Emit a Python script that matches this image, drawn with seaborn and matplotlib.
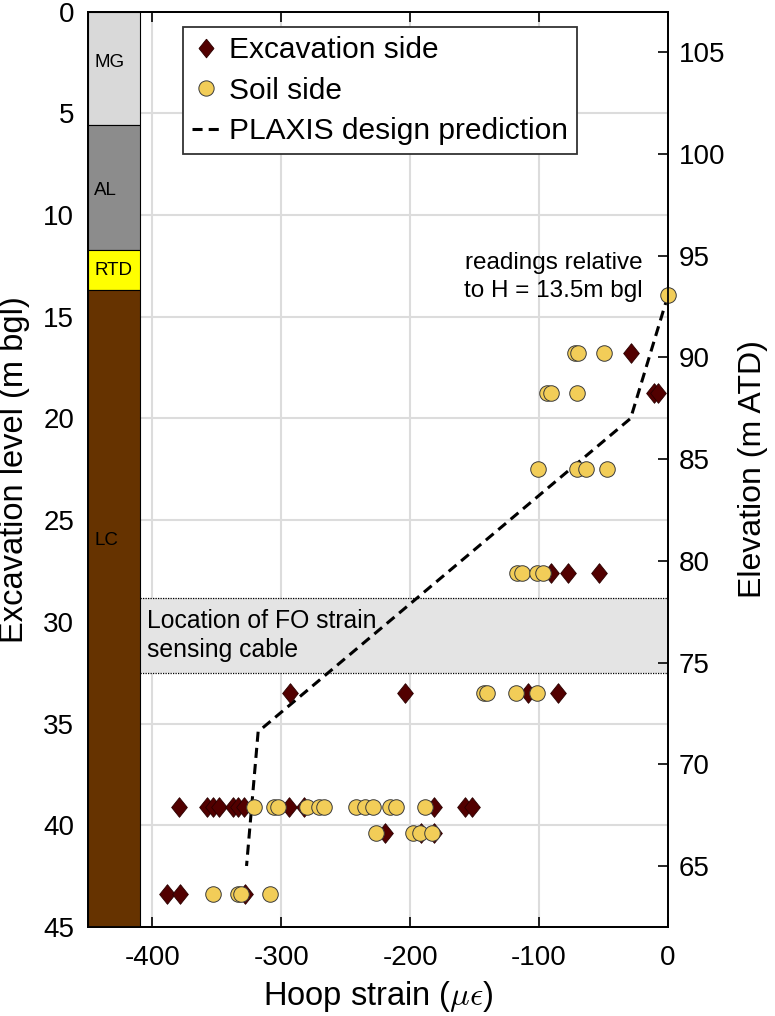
import numpy as np
import pandas as pd
import matplotlib
matplotlib.use("Agg")
import matplotlib.pyplot as plt
import seaborn as sns
from matplotlib.lines import Line2D
from matplotlib.patches import Rectangle

# ---------------- data ----------------
exc_strain = [-28.7,
              -10.9, -7.5,
              -90.7, -77.3, -53.2,
              -293.0, -203.9, -108.8, -85.5,
              -379.6, -358.0, -353.0, -348.6, -337.5, -333.8, -329.2, -294.3, -282.2, -181.4, -157.4, -151.7,
              -219.9, -191.7, -181.9,
              -388.6, -378.8, -328.0]
exc_depth = [16.8,
             18.75, 18.75,
             27.6, 27.6, 27.6,
             33.5, 33.5, 33.5, 33.5,
             39.1, 39.1, 39.1, 39.1, 39.1, 39.1, 39.1, 39.1, 39.1, 39.1, 39.1, 39.1,
             40.4, 40.4, 40.4,
             43.4, 43.4, 43.4]

soil_strain = [0.0,
               -72.0, -70.0, -50.0,
               -93.5, -91.0, -70.3,
               -101.0, -70.3, -63.6, -47.0,
               -116.8, -113.0, -101.3, -96.6,
               -142.4, -140.6, -118.0, -101.8,
               -321.0, -305.4, -302.8, -280.0, -271.0, -267.0, -242.0, -234.9, -229.0, -215.5, -211.0, -188.4,
               -226.4, -198.2, -192.2, -183.2,
               -353.0, -333.6, -331.0, -308.5]
soil_depth = [13.95,
              16.8, 16.8, 16.8,
              18.75, 18.75, 18.75,
              22.5, 22.5, 22.5, 22.5,
              27.6, 27.6, 27.6, 27.6,
              33.5, 33.5, 33.5, 33.5,
              39.1, 39.1, 39.1, 39.1, 39.1, 39.1, 39.1, 39.1, 39.1, 39.1, 39.1, 39.1,
              40.4, 40.4, 40.4, 40.4,
              43.4, 43.4, 43.4, 43.4]

plaxis_strain = [0.0, -29.0, -318.0, -327.0]
plaxis_depth = [13.95, 20.0, 35.4, 42.0]

layer_names = ["MG", "AL", "RTD", "LC"]
layer_top = [0.0, 5.6, 11.7, 13.7]
layer_bottom = [5.6, 11.7, 13.7, 45.0]
layer_colors = ["#d9d9d9", "#8c8c8c", "#ffff00", "#663300"]
layer_label_depth = [2.5, 8.8, 12.75, 26.0]

fo_top, fo_bottom = 28.85, 32.5

x_ticks = [-400, -300, -200, -100, 0]
depth_ticks = [0, 5, 10, 15, 20, 25, 30, 35, 40, 45]
elev_ticks = [65, 70, 75, 80, 85, 90, 95, 100, 105]
ground_elev = 107.0

# ---------------- style ----------------
sns.set_style("whitegrid", {"grid.color": "#dcdcdc", "axes.edgecolor": "black",
                            "text.color": "black", "axes.labelcolor": "black",
                            "xtick.color": "black", "ytick.color": "black"})
plt.rcParams["font.family"] = ["Liberation Sans", "DejaVu Sans"]
plt.rcParams["mathtext.fontset"] = "cm"
plt.rcParams["text.color"] = "black"

fig = plt.figure(figsize=(7.75, 10.16), dpi=100)
ax = fig.add_axes([88 / 775, 1 - 927 / 1016, 580 / 775, 915.5 / 1016])

xmin, xmax = -450, 0
col_right = -410

# stratigraphy column
for name, t, b, c, ld in zip(layer_names, layer_top, layer_bottom, layer_colors, layer_label_depth):
    ax.add_patch(Rectangle((xmin, t), col_right - xmin, b - t, facecolor=c,
                           edgecolor="black", linewidth=0.8, zorder=3))
    ax.text(-445, ld, name, fontsize=13.5, ha="left", va="center", color="black", zorder=4)

# FO cable band
ax.fill_between([col_right, xmax], fo_top, fo_bottom, color="#e4e4e4", zorder=1.5, linewidth=0)
for yv in (fo_top, fo_bottom):
    ax.plot([col_right, xmax], [yv, yv], color="black", lw=0.9, ls=(0, (1, 1)), zorder=1.6)
ax.text(-404.5, (fo_top + fo_bottom) / 2, "Location of FO strain\nsensing cable",
        fontsize=17.8, ha="left", va="center", linespacing=1.3, zorder=2, color="black")

# PLAXIS line
sns.lineplot(x=plaxis_strain, y=plaxis_depth, sort=False, estimator=None, ax=ax,
             color="black", lw=2.2, dashes=False, zorder=4)
ax.lines[-1].set_linestyle((0, (3.3, 2.0)))

diamond = [(0, 1), (0.8, 0), (0, -1), (-0.8, 0), (0, 1)]
exc_df = pd.DataFrame({"strain": exc_strain, "depth": exc_depth})
soil_df = pd.DataFrame({"strain": soil_strain, "depth": soil_depth})
sns.scatterplot(data=exc_df, x="strain", y="depth", ax=ax, marker=diamond, s=200,
                color="#520000", edgecolor="#2a0000", linewidth=0.6, zorder=5, legend=False)
sns.scatterplot(data=soil_df, x="strain", y="depth", ax=ax, marker="o", s=125,
                color="#f2cd58", edgecolor="#3a3a3a", linewidth=0.7, zorder=6, legend=False,
                clip_on=False)

ax.text(-19.4, 13.05, "readings relative\nto H = 13.5m bgl", fontsize=17.5, ha="right",
        va="center", linespacing=1.3, zorder=7, color="black")

ax.set_xlim(xmin, xmax)
ax.set_ylim(45, 0)
ax.set_xticks(x_ticks)
ax.set_xticklabels([str(v) for v in x_ticks])
ax.set_yticks(depth_ticks)
ax.tick_params(axis="x", which="both", direction="in", top=True, bottom=True,
               length=7, width=1.2, labelsize=20, pad=13, color="black", labelcolor="black")
ax.tick_params(axis="y", left=True, length=0, labelsize=20, pad=10, labelcolor="black")
ax.grid(True, color="#dcdcdc", lw=1.5)
ax.set_axisbelow(True)
for sp in ax.spines.values():
    sp.set_color("black")
    sp.set_linewidth(1.3)

ax.set_xlabel(r"Hoop strain ($\mu\epsilon$)", fontsize=23.5, labelpad=6, color="black")
ax.set_ylabel("Excavation level (m bgl)", fontsize=23.5, color="black")
ax.yaxis.set_label_coords(-0.10, 0.5)

# right elevation axis
ax2 = ax.twinx()
ax2.set_ylim(ground_elev - 45, ground_elev)
ax2.set_yticks(elev_ticks)
ax2.grid(False)
ax2.tick_params(axis="y", direction="in", length=7, width=1.2, labelsize=20, pad=8,
                right=True, color="black", labelcolor="black")
for sp in ax2.spines.values():
    sp.set_color("black")
    sp.set_linewidth(1.3)
ax2.set_ylabel("Elevation (m ATD)", fontsize=23, labelpad=9, color="black")

# legend
handles = [
    Line2D([], [], marker=diamond, color="none", markerfacecolor="#520000",
           markeredgecolor="#2a0000", markersize=13.5, markeredgewidth=0.6),
    Line2D([], [], marker="o", color="none", markerfacecolor="#f2cd58",
           markeredgecolor="#3a3a3a", markersize=11, markeredgewidth=0.7),
    Line2D([], [], color="black", lw=2.2, ls=(0, (3.3, 2.0))),
]
labels = ["Excavation side", "Soil side", "PLAXIS design prediction"]
leg = ax.legend(handles, labels, loc="upper left", bbox_to_anchor=(0.164, 0.983),
                fontsize=21.5, frameon=True, fancybox=False, framealpha=1,
                edgecolor="#333333", handlelength=0.9, handletextpad=0.35,
                labelspacing=0.42, borderpad=0.3, borderaxespad=0)
for t in leg.get_texts():
    t.set_color("black")
leg.get_frame().set_linewidth(1.3)
leg.set_zorder(10)

fig.savefig("out.png", dpi=100)
